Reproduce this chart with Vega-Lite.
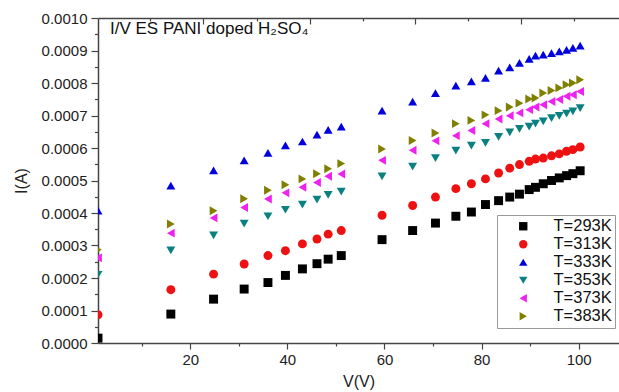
{
  "$schema": "https://vega.github.io/schema/vega-lite/v6.json",
  "width": 521,
  "height": 325,
  "autosize": {"type": "none"},
  "padding": {"left": 98, "top": 18, "right": 0, "bottom": 49},
  "background": "white",
  "config": {
    "font": "Liberation Sans",
    "view": {"stroke": null},
    "axis": {
      "grid": false,
      "domainColor": "#444444",
      "tickColor": "#444444",
      "domainWidth": 1.5,
      "tickWidth": 1.2,
      "labelColor": "#222222",
      "titleColor": "#222222",
      "labelFont": "Liberation Sans",
      "titleFont": "Liberation Sans",
      "titleFontWeight": "normal"
    }
  },
  "title": {
    "text": "I/V ES PANI doped H₂SO₄",
    "anchor": "start",
    "frame": "group",
    "orient": "top",
    "offset": 0,
    "dx": 12,
    "dy": 40,
    "baseline": "alphabetic",
    "fontSize": 17,
    "fontWeight": "normal",
    "color": "#111111",
    "font": "Liberation Sans"
  },
  "datasets": {
    "pts": [
      {"T": "T=293K", "V": 1, "I": 0.000015},
      {"T": "T=293K", "V": 16, "I": 0.000089},
      {"T": "T=293K", "V": 24.8, "I": 0.000135},
      {"T": "T=293K", "V": 31.1, "I": 0.000166},
      {"T": "T=293K", "V": 36.0, "I": 0.000186},
      {"T": "T=293K", "V": 39.6, "I": 0.000208},
      {"T": "T=293K", "V": 43.1, "I": 0.000228},
      {"T": "T=293K", "V": 46.1, "I": 0.000244},
      {"T": "T=293K", "V": 48.4, "I": 0.000258},
      {"T": "T=293K", "V": 51.1, "I": 0.000269},
      {"T": "T=293K", "V": 59.5, "I": 0.000318},
      {"T": "T=293K", "V": 65.8, "I": 0.000346},
      {"T": "T=293K", "V": 70.5, "I": 0.000369},
      {"T": "T=293K", "V": 74.7, "I": 0.00039},
      {"T": "T=293K", "V": 77.9, "I": 0.000403},
      {"T": "T=293K", "V": 80.8, "I": 0.000426},
      {"T": "T=293K", "V": 83.5, "I": 0.000438},
      {"T": "T=293K", "V": 85.8, "I": 0.000449},
      {"T": "T=293K", "V": 87.8, "I": 0.000458},
      {"T": "T=293K", "V": 89.8, "I": 0.000472},
      {"T": "T=293K", "V": 91.1, "I": 0.000479},
      {"T": "T=293K", "V": 92.7, "I": 0.00049},
      {"T": "T=293K", "V": 94.4, "I": 0.0005},
      {"T": "T=293K", "V": 96.0, "I": 0.000508},
      {"T": "T=293K", "V": 97.5, "I": 0.000515},
      {"T": "T=293K", "V": 98.8, "I": 0.000521},
      {"T": "T=293K", "V": 100.3, "I": 0.00053},
      {"T": "T=313K", "V": 1, "I": 0.000087},
      {"T": "T=313K", "V": 16, "I": 0.000164},
      {"T": "T=313K", "V": 24.8, "I": 0.000212},
      {"T": "T=313K", "V": 31.1, "I": 0.000243},
      {"T": "T=313K", "V": 36.0, "I": 0.000269},
      {"T": "T=313K", "V": 39.6, "I": 0.000284},
      {"T": "T=313K", "V": 43.1, "I": 0.000305},
      {"T": "T=313K", "V": 46.1, "I": 0.00032},
      {"T": "T=313K", "V": 48.4, "I": 0.000335},
      {"T": "T=313K", "V": 51.1, "I": 0.000346},
      {"T": "T=313K", "V": 59.5, "I": 0.000393},
      {"T": "T=313K", "V": 65.8, "I": 0.000423},
      {"T": "T=313K", "V": 70.5, "I": 0.000449},
      {"T": "T=313K", "V": 74.7, "I": 0.000475},
      {"T": "T=313K", "V": 77.9, "I": 0.00049},
      {"T": "T=313K", "V": 80.8, "I": 0.000505},
      {"T": "T=313K", "V": 83.5, "I": 0.000523},
      {"T": "T=313K", "V": 85.8, "I": 0.000538},
      {"T": "T=313K", "V": 87.8, "I": 0.000549},
      {"T": "T=313K", "V": 89.8, "I": 0.000559},
      {"T": "T=313K", "V": 91.1, "I": 0.000566},
      {"T": "T=313K", "V": 92.7, "I": 0.000569},
      {"T": "T=313K", "V": 94.4, "I": 0.000576},
      {"T": "T=313K", "V": 96.0, "I": 0.000582},
      {"T": "T=313K", "V": 97.5, "I": 0.00059},
      {"T": "T=313K", "V": 98.8, "I": 0.000595},
      {"T": "T=313K", "V": 100.3, "I": 0.000603},
      {"T": "T=333K", "V": 1, "I": 0.000407},
      {"T": "T=333K", "V": 16, "I": 0.000484},
      {"T": "T=333K", "V": 24.8, "I": 0.000531},
      {"T": "T=333K", "V": 31.1, "I": 0.000562},
      {"T": "T=333K", "V": 36.0, "I": 0.000585},
      {"T": "T=333K", "V": 39.6, "I": 0.000608},
      {"T": "T=333K", "V": 43.1, "I": 0.00062},
      {"T": "T=333K", "V": 46.1, "I": 0.000641},
      {"T": "T=333K", "V": 48.4, "I": 0.000656},
      {"T": "T=333K", "V": 51.1, "I": 0.000666},
      {"T": "T=333K", "V": 59.5, "I": 0.000715},
      {"T": "T=333K", "V": 65.8, "I": 0.000743},
      {"T": "T=333K", "V": 70.5, "I": 0.000769},
      {"T": "T=333K", "V": 74.7, "I": 0.000792},
      {"T": "T=333K", "V": 77.9, "I": 0.000805},
      {"T": "T=333K", "V": 80.8, "I": 0.000816},
      {"T": "T=333K", "V": 83.5, "I": 0.000838},
      {"T": "T=333K", "V": 85.8, "I": 0.000848},
      {"T": "T=333K", "V": 87.8, "I": 0.000862},
      {"T": "T=333K", "V": 89.8, "I": 0.000874},
      {"T": "T=333K", "V": 91.1, "I": 0.000884},
      {"T": "T=333K", "V": 92.7, "I": 0.000887},
      {"T": "T=333K", "V": 94.4, "I": 0.000892},
      {"T": "T=333K", "V": 96.0, "I": 0.000897},
      {"T": "T=333K", "V": 97.5, "I": 0.000902},
      {"T": "T=333K", "V": 98.8, "I": 0.000908},
      {"T": "T=333K", "V": 100.3, "I": 0.000915},
      {"T": "T=353K", "V": 1, "I": 0.00021},
      {"T": "T=353K", "V": 16, "I": 0.000285},
      {"T": "T=353K", "V": 24.8, "I": 0.000331},
      {"T": "T=353K", "V": 31.1, "I": 0.000367},
      {"T": "T=353K", "V": 36.0, "I": 0.00039},
      {"T": "T=353K", "V": 39.6, "I": 0.00041},
      {"T": "T=353K", "V": 43.1, "I": 0.000426},
      {"T": "T=353K", "V": 46.1, "I": 0.000441},
      {"T": "T=353K", "V": 48.4, "I": 0.000456},
      {"T": "T=353K", "V": 51.1, "I": 0.000466},
      {"T": "T=353K", "V": 59.5, "I": 0.000513},
      {"T": "T=353K", "V": 65.8, "I": 0.000543},
      {"T": "T=353K", "V": 70.5, "I": 0.000569},
      {"T": "T=353K", "V": 74.7, "I": 0.000592},
      {"T": "T=353K", "V": 77.9, "I": 0.000607},
      {"T": "T=353K", "V": 80.8, "I": 0.000616},
      {"T": "T=353K", "V": 83.5, "I": 0.000634},
      {"T": "T=353K", "V": 85.8, "I": 0.000648},
      {"T": "T=353K", "V": 87.8, "I": 0.000659},
      {"T": "T=353K", "V": 89.8, "I": 0.000666},
      {"T": "T=353K", "V": 91.1, "I": 0.000675},
      {"T": "T=353K", "V": 92.7, "I": 0.000682},
      {"T": "T=353K", "V": 94.4, "I": 0.000692},
      {"T": "T=353K", "V": 96.0, "I": 0.000699},
      {"T": "T=353K", "V": 97.5, "I": 0.000706},
      {"T": "T=353K", "V": 98.8, "I": 0.000713},
      {"T": "T=353K", "V": 100.3, "I": 0.000723},
      {"T": "T=373K", "V": 1, "I": 0.000262},
      {"T": "T=373K", "V": 16, "I": 0.000338},
      {"T": "T=373K", "V": 24.8, "I": 0.000385},
      {"T": "T=373K", "V": 31.1, "I": 0.000417},
      {"T": "T=373K", "V": 36.0, "I": 0.000443},
      {"T": "T=373K", "V": 39.6, "I": 0.000462},
      {"T": "T=373K", "V": 43.1, "I": 0.000479},
      {"T": "T=373K", "V": 46.1, "I": 0.000494},
      {"T": "T=373K", "V": 48.4, "I": 0.000513},
      {"T": "T=373K", "V": 51.1, "I": 0.00052},
      {"T": "T=373K", "V": 59.5, "I": 0.000562},
      {"T": "T=373K", "V": 65.8, "I": 0.000593},
      {"T": "T=373K", "V": 70.5, "I": 0.000622},
      {"T": "T=373K", "V": 74.7, "I": 0.000638},
      {"T": "T=373K", "V": 77.9, "I": 0.000654},
      {"T": "T=373K", "V": 80.8, "I": 0.000675},
      {"T": "T=373K", "V": 83.5, "I": 0.000689},
      {"T": "T=373K", "V": 85.8, "I": 0.000699},
      {"T": "T=373K", "V": 87.8, "I": 0.000708},
      {"T": "T=373K", "V": 89.8, "I": 0.000718},
      {"T": "T=373K", "V": 91.1, "I": 0.000726},
      {"T": "T=373K", "V": 92.7, "I": 0.000733},
      {"T": "T=373K", "V": 94.4, "I": 0.000743},
      {"T": "T=373K", "V": 96.0, "I": 0.000749},
      {"T": "T=373K", "V": 97.5, "I": 0.000759},
      {"T": "T=373K", "V": 98.8, "I": 0.000764},
      {"T": "T=373K", "V": 100.3, "I": 0.000774},
      {"T": "T=383K", "V": 1, "I": 0.000287},
      {"T": "T=383K", "V": 16, "I": 0.000366},
      {"T": "T=383K", "V": 24.8, "I": 0.000407},
      {"T": "T=383K", "V": 31.1, "I": 0.000444},
      {"T": "T=383K", "V": 36.0, "I": 0.00047},
      {"T": "T=383K", "V": 39.6, "I": 0.000487},
      {"T": "T=383K", "V": 43.1, "I": 0.000505},
      {"T": "T=383K", "V": 46.1, "I": 0.000521},
      {"T": "T=383K", "V": 48.4, "I": 0.000536},
      {"T": "T=383K", "V": 51.1, "I": 0.000552},
      {"T": "T=383K", "V": 59.5, "I": 0.000597},
      {"T": "T=383K", "V": 65.8, "I": 0.000623},
      {"T": "T=383K", "V": 70.5, "I": 0.000646},
      {"T": "T=383K", "V": 74.7, "I": 0.000675},
      {"T": "T=383K", "V": 77.9, "I": 0.000685},
      {"T": "T=383K", "V": 80.8, "I": 0.000702},
      {"T": "T=383K", "V": 83.5, "I": 0.000715},
      {"T": "T=383K", "V": 85.8, "I": 0.000726},
      {"T": "T=383K", "V": 87.8, "I": 0.000738},
      {"T": "T=383K", "V": 89.8, "I": 0.000751},
      {"T": "T=383K", "V": 91.1, "I": 0.000754},
      {"T": "T=383K", "V": 92.7, "I": 0.000769},
      {"T": "T=383K", "V": 94.4, "I": 0.000777},
      {"T": "T=383K", "V": 96.0, "I": 0.000785},
      {"T": "T=383K", "V": 97.5, "I": 0.000795},
      {"T": "T=383K", "V": 98.8, "I": 0.0008},
      {"T": "T=383K", "V": 100.3, "I": 0.00081}
    ]
  },
  "layer": [
    {
      "data": {"name": "pts"},
      "mark": {"type": "point", "filled": true, "size": 80, "opacity": 1, "clip": true, "strokeWidth": 0},
      "encoding": {
        "x": {
          "field": "V",
          "type": "quantitative",
          "scale": {"domain": [1, 108.3], "nice": false, "zero": false},
          "axis": {
            "orient": "bottom",
            "values": [10, 20, 30, 40, 50, 60, 70, 80, 90, 100],
            "format": "d",
            "labelFontSize": 15,
            "labelOverlap": false,
            "labelPadding": 3,
            "tickSize": {"condition": {"test": "datum.value % 20 === 0", "value": 6}, "value": 3},
            "labelOpacity": {"condition": {"test": "datum.value % 20 === 0", "value": 1}, "value": 0},
            "title": "V(V)",
            "titleFontSize": 16,
            "titlePadding": 6
          }
        },
        "y": {
          "field": "I",
          "type": "quantitative",
          "scale": {"domain": [0, 0.001], "nice": false},
          "axis": {
            "orient": "left",
            "values": [0, 0.00005, 0.0001, 0.00015, 0.0002, 0.00025, 0.0003, 0.00035, 0.0004, 0.00045, 0.0005, 0.00055, 0.0006, 0.00065, 0.0007, 0.00075, 0.0008, 0.00085, 0.0009, 0.00095, 0.001],
            "format": ".4f",
            "labelFontSize": 15,
            "labelOverlap": false,
            "labelPadding": 4,
            "tickSize": {"condition": {"test": "round(datum.value * 20000) % 2 == 0", "value": 7}, "value": 3.5},
            "labelOpacity": {"condition": {"test": "round(datum.value * 20000) % 2 == 0", "value": 1}, "value": 0},
            "title": "I(A)",
            "titleFontSize": 16,
            "titlePadding": 12
          }
        },
        "color": {
          "field": "T",
          "type": "nominal",
          "scale": {
            "domain": ["T=293K", "T=313K", "T=333K", "T=353K", "T=373K", "T=383K"],
            "range": ["#000000", "#ee1111", "#0000dd", "#0a8080", "#ee22ee", "#808000"]
          },
          "legend": {
            "title": null,
            "orient": "none",
            "legendX": 399,
            "legendY": 197,
            "strokeColor": "#999999",
            "fillColor": "white",
            "padding": 3,
            "rowPadding": 1,
            "labelFontSize": 16.5,
            "labelColor": "#111111",
            "labelOffset": 22,
            "symbolOffset": 15,
            "symbolSize": 70,
            "symbolStrokeWidth": 0
          }
        },
        "shape": {
          "field": "T",
          "type": "nominal",
          "scale": {
            "domain": ["T=293K", "T=313K", "T=333K", "T=353K", "T=373K", "T=383K"],
            "range": ["square", "circle", "triangle-up", "triangle-down", "triangle-left", "triangle-right"]
          },
          "legend": {
            "title": null,
            "orient": "none",
            "legendX": 399,
            "legendY": 197,
            "strokeColor": "#999999",
            "fillColor": "white",
            "padding": 3,
            "rowPadding": 1,
            "labelFontSize": 16.5,
            "labelColor": "#111111",
            "labelOffset": 22,
            "symbolOffset": 15,
            "symbolSize": 70,
            "symbolStrokeWidth": 0
          }
        }
      }
    },
    {
      "data": {"name": "pts"},
      "mark": {"type": "point", "opacity": 0},
      "encoding": {
        "x": {
          "field": "V",
          "type": "quantitative",
          "axis": {
            "orient": "top",
            "values": [11.8, 22.7, 33.7, 44.7, 55.5, 66.3, 77.3, 88.2, 99.1],
            "labels": false,
            "title": null,
            "tickSize": {"condition": {"test": "indexof([22.7, 44.7, 66.3, 88.2], datum.value) >= 0", "value": -6}, "value": -3}
          }
        },
        "y": {"field": "I", "type": "quantitative", "axis": null}
      }
    }
  ],
  "resolve": {"axis": {"x": "independent", "y": "independent"}}
}
